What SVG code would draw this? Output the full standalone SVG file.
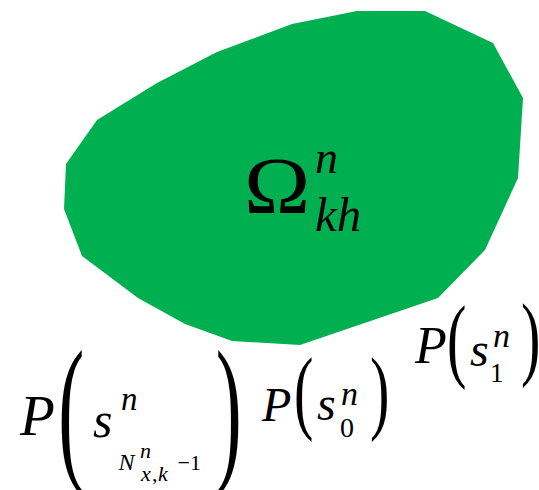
<svg xmlns="http://www.w3.org/2000/svg" width="539" height="490" viewBox="0 0 539 490">
<rect width="539" height="490" fill="#fff"/>
<g id="region">
<polygon fill="#00B050" points="357,11 425,11 493,43 523,98 518,178 485,250 438,298 300,345 232,341 185,324 138,298 82,256 64,209 66,164 97,120 157,83 217,52 292,24"/>
<text transform="translate(244,213) scale(1.1,1)" font-size="81" font-family="Liberation Serif, serif">Ω</text>
<text x="315" y="173" font-size="46" font-family="Liberation Serif, serif" font-style="italic">n</text>
<text x="315" y="231" font-size="49" font-family="Liberation Serif, serif" font-style="italic">kh</text>
</g>
<g id="label-last">
<text x="20" y="435" font-size="57" font-family="Liberation Serif, serif" font-style="italic">P</text>
<text transform="translate(58.3,462) scale(0.78,1.62)" font-size="100" font-family="Liberation Serif, serif">(</text>
<text x="93" y="437" font-size="50" font-family="Liberation Serif, serif" font-style="italic">s</text>
<text x="121" y="410" font-size="33" font-family="Liberation Serif, serif" font-style="italic">n</text>
<text x="118.5" y="470" font-size="24" font-family="Liberation Serif, serif" font-style="italic">N</text>
<text x="140" y="458" font-size="22" font-family="Liberation Serif, serif" font-style="italic">n</text>
<text x="141" y="481" font-size="22" font-family="Liberation Serif, serif" font-style="italic">x</text>
<text x="152" y="481" font-size="22" font-family="Liberation Serif, serif">,</text>
<text x="158" y="481" font-size="22" font-family="Liberation Serif, serif" font-style="italic">k</text>
<text x="177.5" y="470" font-size="22" font-family="Liberation Serif, serif">−1</text>
<text transform="translate(215.7,462) scale(0.78,1.62)" font-size="100" font-family="Liberation Serif, serif">)</text>
</g>
<g id="label-0">
<text x="262" y="421" font-size="48" font-family="Liberation Serif, serif" font-style="italic">P</text>
<text transform="translate(294,422) scale(0.62,1)" font-size="94" font-family="Liberation Serif, serif">(</text>
<text x="317" y="420" font-size="48" font-family="Liberation Serif, serif" font-style="italic">s</text>
<text x="341" y="405" font-size="34" font-family="Liberation Serif, serif" font-style="italic">n</text>
<text x="340" y="437" font-size="28" font-family="Liberation Serif, serif">0</text>
<text transform="translate(370,422) scale(0.62,1)" font-size="94" font-family="Liberation Serif, serif">)</text>
</g>
<g id="label-1">
<text x="415" y="363" font-size="52" font-family="Liberation Serif, serif" font-style="italic">P</text>
<text transform="translate(447,370) scale(0.62,1)" font-size="94" font-family="Liberation Serif, serif">(</text>
<text x="470" y="366" font-size="48" font-family="Liberation Serif, serif" font-style="italic">s</text>
<text x="493" y="347" font-size="34" font-family="Liberation Serif, serif" font-style="italic">n</text>
<text x="490" y="382" font-size="27" font-family="Liberation Serif, serif">1</text>
<text transform="translate(521,368) scale(0.62,1)" font-size="94" font-family="Liberation Serif, serif">)</text>
</g>
</svg>
